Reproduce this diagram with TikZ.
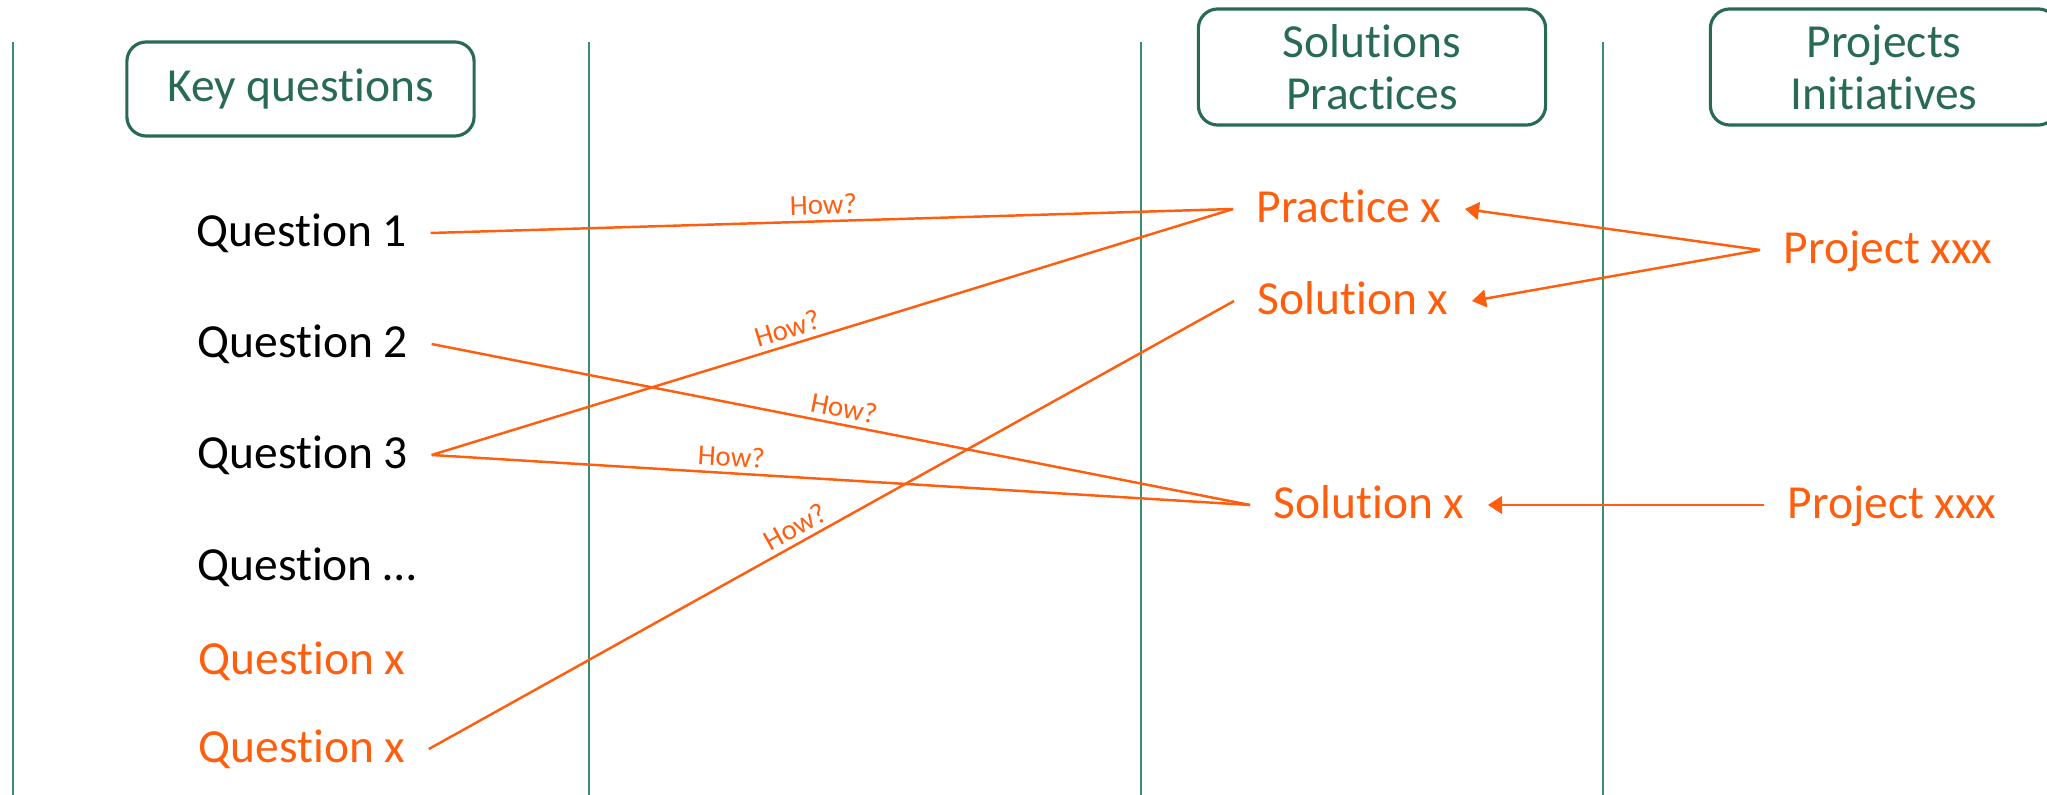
\documentclass[tikz,border=0pt]{standalone}
\usepackage{fontspec}
\setmainfont{Carlito}[Ligatures=NoCommon]
\usetikzlibrary{arrows.meta}
\definecolor{kgreen}{RGB}{40,106,86}
\definecolor{kline}{RGB}{60,140,115}
\definecolor{korange}{RGB}{255,94,14}
\tikzset{
  head/.style={draw=kgreen, line width=0.9pt, rounded corners=5.5pt, text=kgreen,
    align=center, minimum width=3.47cm, font=\fontsize{13.5}{14.8}\selectfont},
  item/.style={inner xsep=6.5pt, inner ysep=0pt, text height=0.85em, text depth=0.1em,
    font=\fontsize{13.5}{16}\selectfont},
  hot/.style={item, text=korange},
  link/.style={draw=korange, line width=0.7pt},
  feeds/.style={link, -{Triangle[length=4pt,width=5pt]}},
  how/.style={font=\fontsize{8.2}{10}\selectfont, text=korange, sloped, above, inner sep=1.5pt},
  rule/.style={draw=kline, line width=0.6pt}
}
\begin{document}
\begin{tikzpicture}[x=0.01cm, y=-0.01cm]
\useasboundingbox (0,0) rectangle (2047,795);
\clip (0,0) rectangle (2047,795);

% column rules
\foreach \x in {13,589,1141,1603}
  \draw[rule] (\x,42) -- (\x,795);

% headers
\node[head, minimum height=0.94cm] (kq) at (300.5,89) {Key questions};
\node[head, minimum height=1.16cm] (sp) at (1372,67) {Solutions\\Practices};
\node[head, minimum height=1.16cm] (pi) at (1884,67) {Projects\\Initiatives};

% questions
\node[item] (q1) at (302,233) {Question 1};
\node[item] (q2) at (303,344) {Question 2};
\node[item] (q3) at (303,455) {Question 3};
\node[item] (qd) at (307,567) {Question …};
\node[hot] (qx) at (302,661) {Question x};
\node[hot] (qy) at (302,749) {Question x};

% solutions and practices
\node[hot] (px) at (1349,209) {Practice x};
\node[hot] (sx) at (1353,301) {Solution x};
\node[hot] (sy) at (1369,505) {Solution x};

% projects
\node[hot] (pa) at (1888,250) {Project xxx};
\node[hot] (pb) at (1892,505) {Project xxx};

% how?
\draw[link] (q1.east) -- node[how, pos=0.49] {How?} (px.west);
\draw[link] (q3.east) -- node[how, pos=0.45] {How?} (px.west);
\draw[link] (q2.east) -- node[how, pos=0.5] {How?} (sy.west);
\draw[link] (q3.east) -- node[how, pos=0.365] {How?} (sy.west);
\draw[link] (qy.east) -- node[how, pos=0.465] {How?} (sx.west);

% projects feed solutions
\draw[feeds] (pa.west) -- (px.east);
\draw[feeds] (pa.west) -- (sx.east);
\draw[feeds] (pb.west) -- (sy.east);
\end{tikzpicture}
\end{document}
